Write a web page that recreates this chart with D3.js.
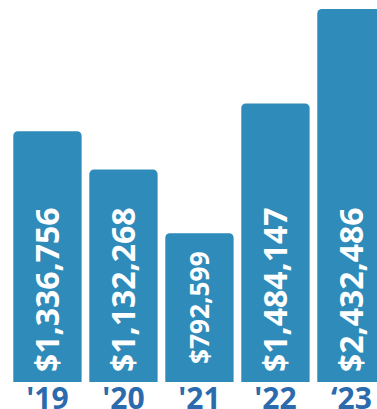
<!DOCTYPE html>
<html>
<head>
<meta charset="utf-8">
<script src="https://cdn.jsdelivr.net/npm/d3@7"></script>
<style>
  html, body { margin: 0; padding: 0; background: #ffffff; overflow: hidden; }
  svg { display: block; }
</style>
</head>
<body>
<svg id="chart" width="377" height="409"></svg>
<script>
// Annual totals by year
const years = ["'19", "'20", "'21", "'22", "\u201823"];
const totals = [1336756, 1132268, 792599, 1484147, 2432486];

const W = 377, H = 409;
const barColor = "#2e8bba";
const yearColor = "#2a6aad";
const fontFamily = "'Open Sans', 'Noto Sans', sans-serif";

const svg = d3.select("#chart");

const x = d3.scaleBand()
  .domain(years)
  .range([13.3, 385.6])
  .paddingInner(0.101)
  .paddingOuter(0);

// Values beyond the top of the plot are capped at its edge
const y = d3.scaleLinear()
  .domain([0, 1988000])
  .range([382, 9])
  .clamp(true);

const data = years.map((yr, i) => ({ year: yr, value: totals[i] }));
const fmt = v => "$" + d3.format(",")(v);
const r = 4.5;

function topRounded(x0, y0, w, h) {
  const p = d3.path();
  p.moveTo(x0, y0 + h);
  p.lineTo(x0, y0 + r);
  p.arcTo(x0, y0, x0 + r, y0, r);
  p.lineTo(x0 + w - r, y0);
  p.arcTo(x0 + w, y0, x0 + w, y0 + r, r);
  p.lineTo(x0 + w, y0 + h);
  p.closePath();
  return p.toString();
}

const g = svg.selectAll("g.bar").data(data).join("g").attr("class", "bar");

g.append("path")
  .attr("d", d => topRounded(x(d.year), y(d.value), x.bandwidth(), y(0) - y(d.value)))
  .attr("fill", barColor);

// Value labels, rotated to read upward inside each bar
const baseSize = 32;
g.each(function(d) {
  const cx = x(d.year) + x.bandwidth() / 2;
  const top = y(d.value), bottom = y(0);
  const h = bottom - top;
  const t = d3.select(this).append("text")
    .text(fmt(d.value))
    .attr("fill", "#ffffff")
    .attr("font-family", fontFamily)
    .attr("font-weight", 700)
    .attr("font-size", baseSize);
  let size = baseSize;
  const len = t.node().getComputedTextLength();
  const room = h - 36;
  let startY;
  if (len > room) {
    size = baseSize * room / len;
    t.attr("font-size", size);
    const l2 = t.node().getComputedTextLength();
    startY = (top + bottom) / 2 + l2 / 2;
  } else {
    startY = bottom - 10;
  }
  const bx = cx + size * 0.357;
  t.attr("transform", `translate(${bx},${startY}) rotate(-90)`);
});

// Year labels under the bars
svg.selectAll("text.year").data(data).join("text")
  .attr("class", "year")
  .attr("x", d => x(d.year) + x.bandwidth() / 2)
  .attr("y", 409)
  .attr("text-anchor", "middle")
  .attr("fill", yearColor)
  .attr("font-family", fontFamily)
  .attr("font-weight", 700)
  .attr("font-size", 30)
  .text(d => d.year);
</script>
</body>
</html>
